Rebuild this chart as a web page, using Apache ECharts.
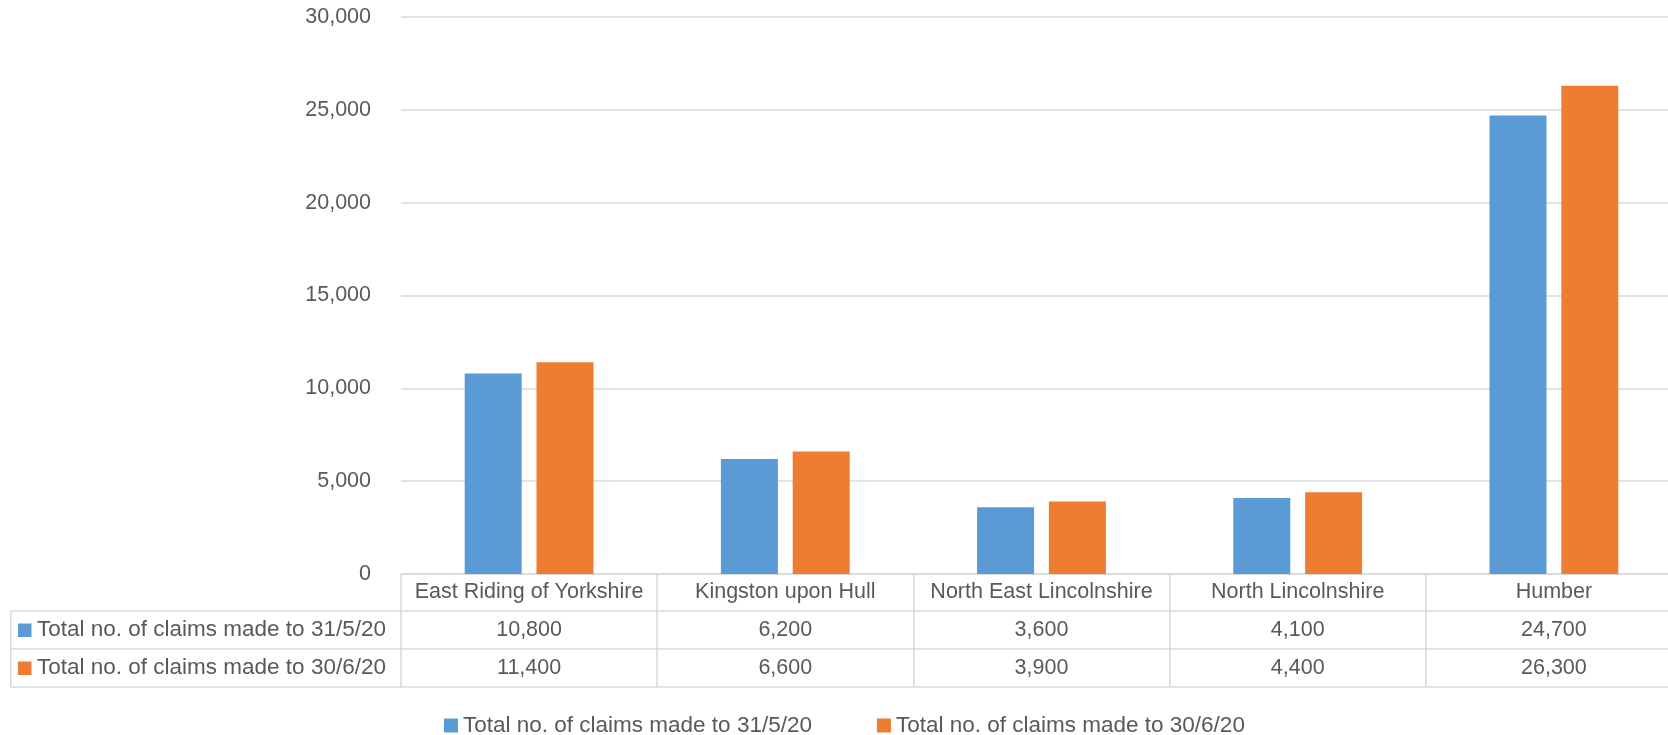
<!DOCTYPE html>
<html>
<head>
<meta charset="utf-8">
<script src="https://cdn.jsdelivr.net/npm/echarts@6/dist/echarts.min.js"></script>
<style>
html,body{margin:0;padding:0;background:#fff;overflow:hidden;width:1668px;height:735px;}
#chart{width:1700px;height:735px;}
</style>
</head>
<body>
<div id="chart"></div>
<script>
const categories = ['East Riding of Yorkshire', 'Kingston upon Hull', 'North East Lincolnshire', 'North Lincolnshire', 'Humber'];
const seriesNames = ['Total no. of claims made to 31/5/20', 'Total no. of claims made to 30/6/20'];
const claimsMay = [10800, 6200, 3600, 4100, 24700];
const claimsJune = [11400, 6600, 3900, 4400, 26300];
const yMin = 0, yMax = 30000, yStep = 5000;
const colors = ['#5B9BD5', '#ED7D31'];

const FONT = 'Liberation Sans';
const FS = 21.5;
const FS_NAME = 22.5;
const TXT = '#595959';
const LINE = '#d9d9d9';

function fmt(v) { return String(v).replace(/\B(?=(\d{3})+(?!\d))/g, ','); }

const chart = echarts.init(document.getElementById('chart'));

const gridTop = 17, gridBottomY = 574, rowH = [37, 38, 38];
const gridLeft = 401;
const tableLeft = 10.7;
const row1Y = gridBottomY + rowH[0];
const row2Y = row1Y + rowH[1];
const row3Y = row2Y + rowH[2];

function valueAxis(offset, values, h) {
  return {
    type: 'category', data: categories, position: 'bottom', offset: offset,
    axisLine: { show: true, lineStyle: { color: LINE, width: 1.5 } },
    axisTick: { show: false },
    axisLabel: {
      interval: 0, margin: 0, lineHeight: h, color: TXT, fontFamily: FONT, fontSize: FS,
      formatter: function (v, i) { return values ? fmt(values[i]) : ''; }
    }
  };
}

const graphics = [];
[row1Y, row2Y, row3Y].forEach(function (y) {
  graphics.push({ type: 'line', shape: { x1: tableLeft, y1: y, x2: gridLeft, y2: y }, style: { stroke: LINE, lineWidth: 1.5 } });
});
graphics.push({ type: 'line', shape: { x1: tableLeft, y1: row1Y, x2: tableLeft, y2: row3Y }, style: { stroke: LINE, lineWidth: 1.5 } });
[[row1Y, row2Y], [row2Y, row3Y]].forEach(function (r, i) {
  const cy = (r[0] + r[1]) / 2;
  graphics.push({ type: 'rect', shape: { x: 18, y: cy - 6.5, width: 13.5, height: 13.5 }, style: { fill: colors[i] } });
  graphics.push({ type: 'text', x: 37, y: cy, style: { text: seriesNames[i], fill: TXT, font: FS_NAME + 'px "' + FONT + '"', verticalAlign: 'middle', align: 'left' } });
});

chart.setOption({
  animation: false,
  color: colors,
  textStyle: { fontFamily: FONT },
  grid: { left: gridLeft, top: gridTop, width: 1281, height: gridBottomY - gridTop, containLabel: false },
  legend: {
    data: seriesNames, left: 439, top: 709, icon: 'rect', itemWidth: 14, itemHeight: 14, itemGap: 65,
    textStyle: { color: TXT, fontFamily: FONT, fontSize: FS_NAME }
  },
  xAxis: [
    {
      type: 'category', data: categories, position: 'bottom',
      axisLine: { show: true, lineStyle: { color: LINE, width: 1.5 } },
      axisTick: { show: true, length: rowH[0] + rowH[1] + rowH[2], interval: 0, lineStyle: { color: LINE, width: 1.5 } },
      axisLabel: { interval: 0, margin: 0, lineHeight: rowH[0], color: TXT, fontFamily: FONT, fontSize: FS }
    },
    valueAxis(rowH[0], claimsMay, rowH[1]),
    valueAxis(rowH[0] + rowH[1], claimsJune, rowH[2]),
    valueAxis(rowH[0] + rowH[1] + rowH[2], null, 10)
  ],
  yAxis: {
    type: 'value', min: yMin, max: yMax, interval: yStep,
    axisLine: { show: false }, axisTick: { show: false },
    axisLabel: { color: TXT, fontFamily: FONT, fontSize: FS, margin: 30, formatter: function (v) { return fmt(v); } },
    splitLine: { lineStyle: { color: LINE, width: 1.5 } }
  },
  series: [
    { name: seriesNames[0], type: 'bar', data: claimsMay, barWidth: 57, barGap: '26%', xAxisIndex: 0 },
    { name: seriesNames[1], type: 'bar', data: claimsJune, barWidth: 57, xAxisIndex: 0 }
  ],
  graphic: graphics
});
</script>
</body>
</html>
